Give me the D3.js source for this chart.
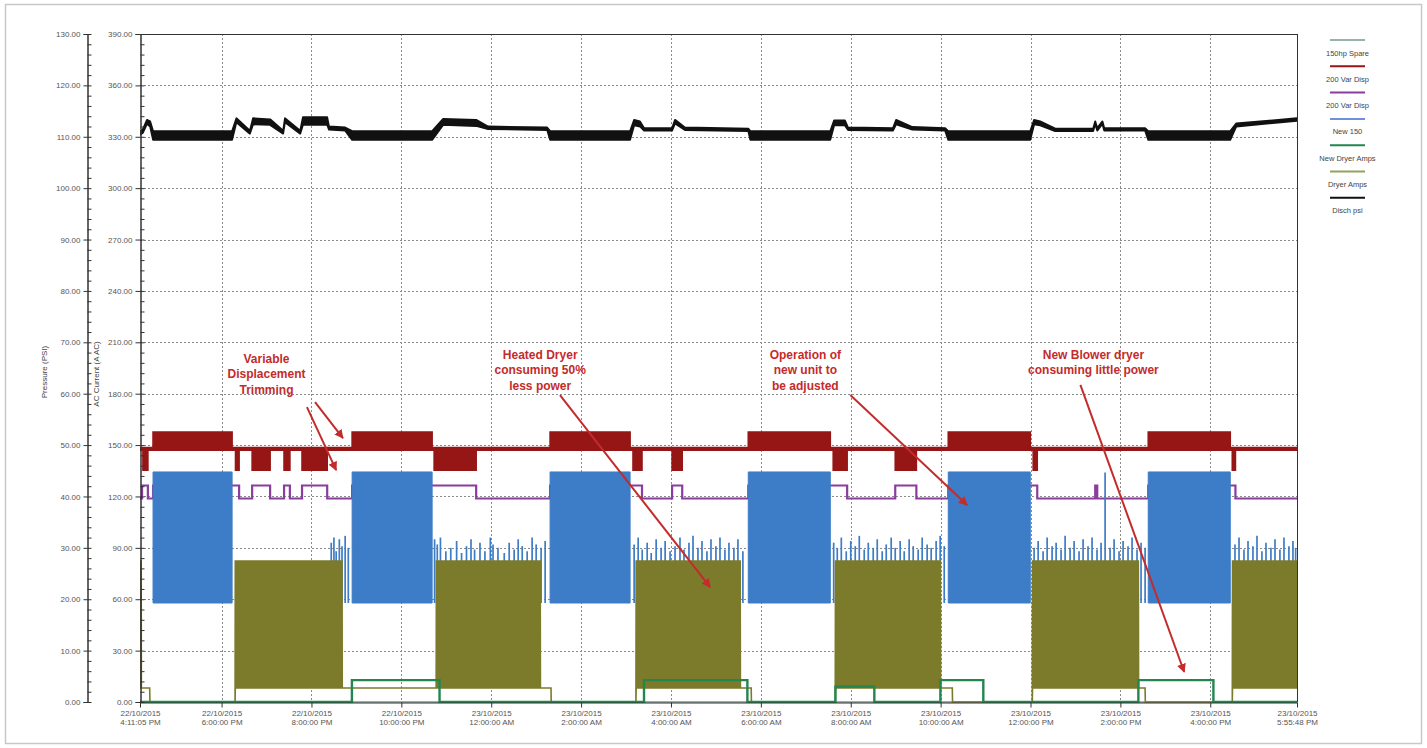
<!DOCTYPE html>
<html><head><meta charset="utf-8">
<script src="https://cdn.jsdelivr.net/npm/d3@7"></script>
<style>
body{margin:0;background:#fff;}
svg{display:block;font-family:Arial,"Liberation Sans",sans-serif;}
</style>
</head><body>
<svg id="c" width="1427" height="748"></svg>
<script>
// ---------- DATA (time in hours since 22/10/2015 00:00) ----------
const timeStart = 16 + 11/60 + 5/3600;      // 22/10/2015 4:11:05 PM
const timeEnd   = 41 + 55/60 + 48/3600;     // 23/10/2015 5:55:48 PM
const timeTicks = [timeStart, 18, 20, 22, 24, 26, 28, 30, 32, 34, 36, 38, 40, timeEnd];
const pressureTicks = [0,10,20,30,40,50,60,70,80,90,100,110,120,130];
const currentTicks  = [0,30,60,90,120,150,180,210,240,270,300,330,360,390];

const legendNames = ["150hp Spare","200 Var Disp","200 Var Disp","New 150","New Dryer Amps","Dryer Amps","Disch psi"];

// Disch psi: [hour, low psi, high psi]
const dischPsi = [
 [16.185,110.4,111.0],[16.25,110.8,111.5],[16.34,112.5,113.3],[16.41,112.0,113.0],[16.475,109.4,111.1],
 [18.234,109.4,111.1],[18.33,112.8,113.6],[18.63,110.6,111.2],[18.70,112.4,113.6],[19.08,112.3,113.4],
 [19.37,110.6,111.2],[19.41,112.8,113.6],[19.75,110.6,111.2],[19.81,112.3,113.8],[20.35,112.3,113.8],
 [20.39,111.4,112.0],[20.75,111.2,111.8],[20.905,109.4,111.1],[22.685,109.4,111.1],[22.93,112.3,113.5],
 [23.665,112.1,113.3],[23.93,111.5,112.0],[25.245,111.3,111.8],[25.31,109.4,111.1],[27.09,109.4,111.1],
 [27.18,112.2,113.3],[27.31,112.0,113.0],[27.40,111.2,111.7],[28.025,111.2,111.7],[28.09,112.6,113.3],
 [28.31,111.3,111.8],[29.72,111.1,111.6],[29.765,109.4,111.1],[31.545,109.4,111.1],[31.63,112.2,113.2],
 [31.87,112.2,113.2],[31.94,111.3,111.8],[32.94,111.2,111.7],[33.01,112.4,113.3],[33.37,111.4,111.9],
 [34.10,111.2,111.7],[34.17,109.4,111.1],[35.995,109.4,111.1],[36.08,112.4,113.3],[36.215,112.2,113.0],
 [36.55,111.1,111.6],[37.395,111.1,111.6],[37.44,112.5,113.0],[37.485,111.2,111.7],[37.60,112.5,113.0],
 [37.64,111.2,111.7],[38.55,111.2,111.7],[38.62,109.4,111.1],[40.445,109.4,111.1],[40.58,112.0,112.6],
 [41.93,113.1,113.6]
];

// 200 Var Disp (red): [from hour, to hour, low A, high A]
const varDispRed = [
 [16.185,16.25,147,148.5],[16.25,16.36,135.4,148.5],[16.36,16.475,147,148.5],[16.475,18.234,147,157.6],
 [18.234,18.31,147,148.5],[18.31,18.39,135.4,148.5],[18.39,18.68,147,148.5],[18.68,19.08,135.4,148.5],
 [19.08,19.39,147,148.5],[19.39,19.52,135.4,148.5],[19.52,19.79,147,148.5],[19.79,20.35,135.4,148.5],
 [20.35,20.905,147,148.5],[20.905,22.685,147,157.6],[22.685,22.73,147,148.5],[22.73,23.665,135.4,148.5],
 [23.665,25.31,147,148.5],[25.31,27.09,147,157.6],[27.09,27.155,147,148.5],[27.155,27.355,135.4,148.5],
 [27.355,28.025,147,148.5],[28.025,28.25,135.4,148.5],[28.25,29.72,147,148.5],[29.72,31.545,147,157.6],
 [31.545,31.61,147,148.5],[31.61,31.92,135.4,148.5],[31.92,32.99,147,148.5],[32.99,33.46,135.4,148.5],
 [33.46,34.17,147,148.5],[34.17,35.995,147,157.6],[35.995,36.06,147,148.5],[36.06,36.15,135.4,148.5],
 [36.15,38.62,147,148.5],[38.62,40.445,147,157.6],[40.445,40.49,147,148.5],[40.49,40.56,135.4,148.5],
 [40.56,41.93,147,148.5]
];

// 200 Var Disp (purple): [from hour, to hour, A]
const varDispPurple = [
 [16.185,16.23,118.8],[16.23,16.36,126.4],[16.36,16.475,118.8],[16.475,18.39,126.4],[18.39,18.68,118.8],
 [18.68,19.08,126.4],[19.08,19.39,118.8],[19.39,19.52,126.4],[19.52,19.79,118.8],[19.79,20.35,126.4],
 [20.35,20.905,118.8],[20.905,23.665,126.4],[23.665,25.31,118.8],[25.31,27.355,126.4],[27.355,28.025,118.8],
 [28.025,28.25,126.4],[28.25,29.72,118.8],[29.72,31.92,126.4],[31.92,32.99,118.8],[32.99,33.46,126.4],
 [33.46,34.17,118.8],[34.17,36.15,126.4],[36.15,37.44,118.8],[37.44,37.485,126.4],[37.485,38.62,118.8],
 [38.62,40.56,126.4],[40.56,41.93,118.8]
];

// New 150 (blue) running blocks: [from hour, to hour, low A, high A]
const new150Blocks = [
 [16.475,18.234,57.8,134.3],[20.905,22.685,57.8,134.3],[25.31,27.09,57.8,134.3],
 [29.72,31.545,57.8,134.3],[34.17,35.995,57.8,134.3],[38.62,40.445,57.8,134.3]
];
const new150SpikeBase = 57.8;
// New 150 (blue) idle spikes: hours and peak amps
const new150SpikeTimes = [
 20.44,20.50,20.55,20.62,20.68,20.75,20.82,
 22.74,22.80,22.87,22.99,23.10,23.23,23.34,23.45,23.55,23.63,23.75,23.86,23.98,24.04,24.15,24.29,24.40,24.51,24.60,24.69,24.80,24.91,25.00,25.11,25.20,
 27.18,27.27,27.36,27.47,27.56,27.67,27.78,27.87,27.98,28.09,28.20,28.29,28.40,28.49,28.60,28.69,28.80,28.89,29.00,29.09,29.20,29.29,29.40,29.49,29.60,
 31.62,31.70,31.79,31.90,32.00,32.10,32.19,32.30,32.39,32.50,32.59,32.70,32.79,32.90,32.99,33.10,33.19,33.30,33.39,33.50,33.59,33.70,33.79,33.90,33.99,34.08,
 36.08,36.17,36.28,36.37,36.48,36.57,36.68,36.77,36.88,36.97,37.08,37.17,37.28,37.37,37.48,37.57,37.66,37.77,37.86,37.97,38.06,38.17,38.26,38.37,38.46,38.55,
 40.55,40.64,40.75,40.84,40.95,41.04,41.15,41.24,41.35,41.44,41.55,41.64,41.75,41.84,41.90
];
const new150SpikePeaks = [
 93,96,88,95,91,97,90,
 95,92,96,88,90,94,87,91,95,89,93,88,96,92,90,87,93,89,95,91,88,96,92,90,94,
 92,96,89,93,87,95,90,94,88,91,96,89,93,97,90,94,88,95,91,96,89,93,90,95,88,
 93,90,96,88,94,91,97,89,93,90,95,88,92,96,90,94,88,95,91,89,96,92,90,94,97,91,
 90,94,88,96,91,93,89,97,90,94,88,95,91,96,89,93,134,90,95,88,94,91,96,89,93,90,
 92,96,89,94,91,97,88,93,90,95,89,96,91,94,90
];

// Dryer Amps (olive): [hour, low A, high A]
const dryerAmps = [
 [16.185,8.2,82.3],[16.21,8.2,82.3],[16.215,8.2,8.2],[16.40,8.2,8.2],[16.405,0,0],[18.30,0,0],
 [18.305,8.2,82.3],[20.68,8.2,82.3],[20.685,8.2,8.2],[22.775,8.2,8.2],[22.78,8.2,82.3],[25.09,8.2,82.3],
 [25.095,8.2,8.2],[25.33,8.2,8.2],[25.335,0,0],[27.22,0,0],[27.225,8.2,82.3],[29.54,8.2,82.3],
 [29.545,8.2,8.2],[29.785,8.2,8.2],[29.79,0,0],[31.655,0,0],[31.66,8.2,82.3],[33.995,8.2,82.3],
 [34.0,8.2,8.2],[34.26,8.2,8.2],[34.265,0,0],[36.04,0,0],[36.045,8.2,82.3],[38.40,8.2,82.3],
 [38.405,8.2,8.2],[38.55,8.2,8.2],[38.555,0,0],[40.49,0,0],[40.495,8.2,82.3],[41.93,8.2,82.3]
];

// New Dryer Amps (green): [from hour, to hour, A]
const newDryerAmps = [
 [16.185,20.9,0],[20.9,22.85,12.8],[22.85,27.4,0],[27.4,29.7,12.8],[29.7,31.66,0],[31.66,32.525,9],
 [32.525,33.995,0],[33.995,34.95,12.8],[34.95,38.40,0],[38.40,40.07,12.8],[40.07,41.93,0]
];

// 150hp Spare: [from hour, to hour, A]
const spare150 = [[16.185,41.93,0]];

// Annotations (anchor in hours / amps)
const noteTexts = [
 ["Variable","Displacement","Trimming"],
 ["Heated Dryer","consuming 50%","less power"],
 ["Operation of","new unit to","be adjusted"],
 ["New Blower dryer","consuming little power"]
];
const noteHours = [19.0, 25.09, 30.99, 37.4];
const noteAmps  = [200.3, 202.6, 202.6, 202.6];
// Arrows: [from hour, from amps, to hour, to amps]
const arrows = [
 [20.08,175.1,20.70,154.1],
 [19.90,172.2,20.55,135.4],
 [25.53,179.2,28.87,67.1],
 [31.99,179.2,34.59,115.0],
 [37.11,185.1,39.42,17.5]
];

// ---------- DRAWING ----------
const BASE = new Date(2015, 9, 22, 0, 0, 0).getTime();
const T = h => new Date(BASE + h * 3600000);

const P = {l:140, r:1297, t:34, b:702};
const svg = d3.select("#c");

const x  = d3.scaleTime().domain([T(timeStart), T(timeEnd)]).range([P.l, P.r]);
const yP = d3.scaleLinear().domain([0,130]).range([P.b, P.t]);
const yA = d3.scaleLinear().domain([0,390]).range([P.b, P.t]);

const C = {
  spare:"#97b3a6", red:"#961616", purple:"#8a3d9e", blue:"#3d7cc6",
  green:"#23864f", olive:"#7b7b2b", black:"#111111", note:"#c42b2b", grid:"#8a8a8a", axis:"#333"
};

// outer frame
svg.append("rect").attr("x",5.5).attr("y",4.5).attr("width",1416).attr("height",739)
  .attr("fill","#fff").attr("stroke","#c8c8c8").attr("stroke-width",1.5);

svg.append("defs").append("clipPath").attr("id","clip")
  .append("rect").attr("x",P.l).attr("y",P.t-2).attr("width",P.r-P.l).attr("height",P.b-P.t+3);

// grid
const grid = svg.append("g");
grid.selectAll("line.h").data(currentTicks.filter(v=>v>0 && v<390)).join("line")
  .attr("x1",P.l).attr("x2",P.r).attr("y1",d=>Math.round(yA(d))+0.5).attr("y2",d=>Math.round(yA(d))+0.5)
  .attr("stroke",C.grid).attr("stroke-width",1).attr("stroke-dasharray","2,2");
grid.selectAll("line.v").data(timeTicks.slice(1,-1)).join("line")
  .attr("y1",P.t).attr("y2",P.b).attr("x1",d=>Math.round(x(T(d)))+0.5).attr("x2",d=>Math.round(x(T(d)))+0.5)
  .attr("stroke",C.grid).attr("stroke-width",1).attr("stroke-dasharray","2,2");

// series
const S = svg.append("g").attr("clip-path","url(#clip)");
function segPointsBand(segs){ const p=[]; segs.forEach(s=>{p.push([s[0],s[2],s[3]]);p.push([s[1],s[2],s[3]]);}); return p; }
function segPointsLine(segs){ const p=[]; segs.forEach(s=>{p.push([s[0],s[2]]);p.push([s[1],s[2]]);}); return p; }
const bandA = d3.area().x(d=>x(T(d[0]))).y0(d=>yA(d[1])).y1(d=>yA(d[2]));
const bandP = d3.area().x(d=>x(T(d[0]))).y0(d=>yP(d[1])).y1(d=>yP(d[2]));
const lineA = d3.line().x(d=>x(T(d[0]))).y(d=>yA(d[1]));

S.append("path").attr("d",lineA(segPointsLine(spare150))).attr("fill","none").attr("stroke",C.spare).attr("stroke-width",2);
S.append("path").attr("d",lineA(segPointsLine(varDispPurple))).attr("fill","none").attr("stroke",C.purple).attr("stroke-width",2.2);
S.append("path").attr("d",bandA(segPointsBand(varDispRed))).attr("fill",C.red).attr("stroke",C.red).attr("stroke-width",1.6);

// blue spikes
S.append("g").selectAll("line").data(new150SpikeTimes.map((t,i)=>[t,new150SpikePeaks[i]])).join("line")
  .attr("x1",d=>x(T(d[0]))).attr("x2",d=>x(T(d[0])))
  .attr("y1",yA(new150SpikeBase)).attr("y2",d=>yA(d[1]))
  .attr("stroke",C.blue).attr("stroke-width",1.7);
// blue blocks
S.append("g").selectAll("path").data(new150Blocks).join("path")
  .attr("d",b=>bandA([[b[0],b[2],b[3]],[b[1],b[2],b[3]]]))
  .attr("fill",C.blue).attr("stroke",C.blue).attr("stroke-width",1);

S.append("path").attr("d",bandA(dryerAmps)).attr("fill",C.olive).attr("stroke",C.olive).attr("stroke-width",1.6);
S.append("path").attr("d",lineA(segPointsLine(newDryerAmps))).attr("fill","none").attr("stroke",C.green).attr("stroke-width",2.4);
S.append("path").attr("d",bandP(dischPsi)).attr("fill",C.black).attr("stroke",C.black).attr("stroke-width",1.8).attr("stroke-linejoin","round");

// plot frame (top, right)
svg.append("line").attr("x1",P.l).attr("x2",P.r).attr("y1",P.t+0.5).attr("y2",P.t+0.5).attr("stroke",C.axis).attr("stroke-width",1);
svg.append("line").attr("x1",P.r+0.5).attr("x2",P.r+0.5).attr("y1",P.t).attr("y2",P.b).attr("stroke",C.axis).attr("stroke-width",1);

// axes
const fmt2 = d3.format(".2f");
function styleAxis(g){
  g.select(".domain").attr("stroke",C.axis);
  g.selectAll(".tick line").attr("stroke",C.axis);
  g.selectAll(".tick text").attr("fill","#555").attr("font-size",8);
}
const minorP = [];
for (let v=0; v<=130; v+=2) minorP.push(v);
const gP = svg.append("g").attr("transform","translate(87.5,0)")
  .call(d3.axisLeft(yP).tickValues(pressureTicks).tickFormat(fmt2).tickSize(4).tickPadding(3));
styleAxis(gP);
const gPm = svg.append("g").attr("transform","translate(87.5,0)")
  .call(d3.axisRight(yP).tickValues(minorP).tickFormat("").tickSize(4).tickSizeOuter(0));
styleAxis(gPm);

const minorA = minorP.map(v=>v*3);
const gA = svg.append("g").attr("transform",`translate(${P.l+0.5},0)`)
  .call(d3.axisLeft(yA).tickValues(currentTicks).tickFormat(fmt2).tickSize(5).tickPadding(3));
styleAxis(gA);
const gAm = svg.append("g").attr("transform",`translate(${P.l+0.5},0)`)
  .call(d3.axisRight(yA).tickValues(minorA).tickFormat("").tickSize(4).tickSizeOuter(0));
styleAxis(gAm);

const fD = d3.timeFormat("%d/%m/%Y"), fT = d3.timeFormat("%-I:%M:%S %p");
const gX = svg.append("g").attr("transform",`translate(0,${P.b+0.5})`)
  .call(d3.axisBottom(x).tickValues(timeTicks.map(T)).tickFormat("").tickSize(5).tickSizeOuter(0));
styleAxis(gX);
gX.selectAll(".tick").append("text").attr("y",13).attr("text-anchor","middle").attr("font-size",8).attr("fill","#555").text(d=>fD(d));
gX.selectAll(".tick").append("text").attr("y",22).attr("text-anchor","middle").attr("font-size",8).attr("fill","#555").text(d=>fT(d));

// axis titles
svg.append("text").attr("transform","translate(47,372) rotate(-90)").attr("text-anchor","middle")
  .attr("font-size",8).attr("fill","#444").text("Pressure (PSI)");
svg.append("text").attr("transform","translate(99,374) rotate(-90)").attr("text-anchor","middle")
  .attr("font-size",8).attr("fill","#444").text("AC Current (A AC)");

// legend
const legColors = [C.spare, C.red, C.purple, "#6f8fdc", C.green, "#93a25a", C.black];
const lg = svg.append("g");
legendNames.forEach((n,i)=>{
  const yy = 40 + i*26.3;
  lg.append("line").attr("x1",1330).attr("x2",1365).attr("y1",yy).attr("y2",yy)
    .attr("stroke",legColors[i]).attr("stroke-width",2);
  lg.append("text").attr("x",1347.5).attr("y",yy+15.5).attr("text-anchor","middle")
    .attr("font-size",7.5).attr("fill","#444").text(n);
});

// annotations
const defs = svg.select("defs");
defs.append("marker").attr("id","ah").attr("viewBox","0 0 10 10").attr("refX",9).attr("refY",5)
  .attr("markerWidth",4.5).attr("markerHeight",4.5).attr("orient","auto")
  .append("path").attr("d","M0,0 L10,5 L0,10 z").attr("fill",C.note);
const an = svg.append("g");
arrows.forEach(a=>{
  an.append("line").attr("x1",x(T(a[0]))).attr("y1",yA(a[1])).attr("x2",x(T(a[2]))).attr("y2",yA(a[3]))
    .attr("stroke",C.note).attr("stroke-width",2).attr("marker-end","url(#ah)");
});
noteTexts.forEach((lines,i)=>{
  const t = an.append("text").attr("text-anchor","middle").attr("font-size",12).attr("font-weight","bold").attr("fill",C.note);
  lines.forEach((l,j)=>{
    t.append("tspan").attr("x",x(T(noteHours[i]))).attr("y",yA(noteAmps[i])+4+j*15.5).text(l);
  });
});
</script>
</body></html>
